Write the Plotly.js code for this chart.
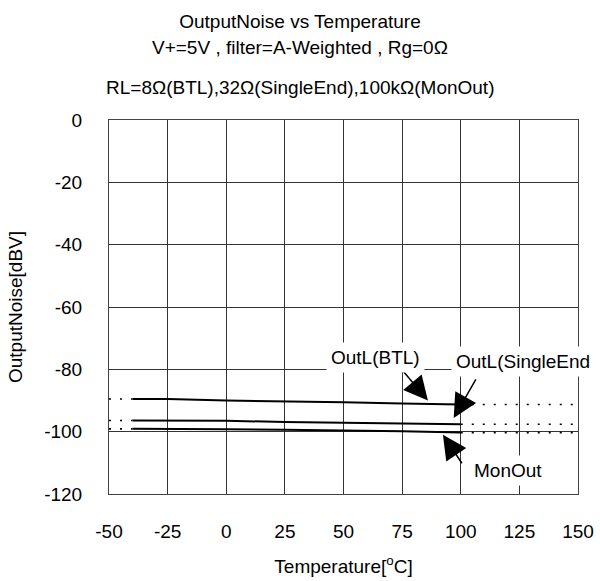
<!DOCTYPE html>
<html>
<head>
<meta charset="utf-8">
<script src="https://cdn.plot.ly/plotly-3.0.1.min.js"></script>
<style>
  html, body { margin: 0; padding: 0; background: #fff; }
  #chart { width: 600px; height: 581px; }
</style>
</head>
<body>
<div id="chart"></div>
<script>
// Measured output noise (dBV) over temperature (°C)
var temps      = [-40, -25, 0, 25, 50, 75, 100];
var btl        = [-89.5, -89.5, -90.0, -90.2, -90.6, -91.0, -91.3];
var singleEnd  = [-96.4, -96.4, -96.5, -96.9, -97.2, -97.4, -97.6];
var monOut     = [-99.1, -99.1, -99.2, -99.4, -99.6, -99.9, -100.3];

// Ranges outside the measured span, drawn dotted
var lowTemps   = [-50, -40];
var highTemps  = [100, 150];

var xTicks = [-50, -25, 0, 25, 50, 75, 100, 125, 150];
var yTicks = [0, -20, -40, -60, -80, -100, -120];

var FONT = 'Liberation Sans, Arial, sans-serif';

function solid(y, name) {
  return { x: temps, y: y, name: name, type: 'scatter', mode: 'lines',
           line: { color: '#000', width: 2 }, hoverinfo: 'skip' };
}
function dotted(xs, v, name) {
  return { x: xs, y: [v, v], name: name, type: 'scatter', mode: 'lines',
           line: { color: '#000', width: 1.6, dash: '2px,9px' }, hoverinfo: 'skip' };
}

var series = [
  { y: btl, name: 'OutL(BTL)' },
  { y: singleEnd, name: 'OutL(SingleEnd)' },
  { y: monOut, name: 'MonOut' }
];

var traces = [];
series.forEach(function (s) {
  traces.push(solid(s.y, s.name));
  traces.push(dotted(lowTemps, s.y[0], s.name));
  traces.push(dotted(highTemps, s.y[s.y.length - 1], s.name));
});

// plot-area geometry, used to place free text in paper coordinates
var PL = 109, PW = 469, PB = 494, PH = 374;
function px(xPix) { return (xPix - PL) / PW; }
function py(yPix) { return (PB - yPix) / PH; }

function label(text, x, y) {
  return { text: text, xref: 'paper', yref: 'paper', x: px(x), y: py(y),
           xanchor: 'center', yanchor: 'middle', showarrow: false,
           bgcolor: '#fff', borderpad: 4,
           font: { family: FONT, size: 19, color: '#000' } };
}
function arrow(x, y, ax, ay) {
  return { text: '', x: x, y: y, xref: 'x', yref: 'y', ax: ax, ay: ay,
           showarrow: true, arrowhead: 2, arrowsize: 3.2, arrowwidth: 1.5,
           arrowcolor: '#000', standoff: 0 };
}
function subtitle(text, y) {
  return { text: text, xref: 'paper', yref: 'paper', x: px(300), y: py(y),
           xanchor: 'center', yanchor: 'middle', showarrow: false,
           font: { family: FONT, size: 19, color: '#000' } };
}

var layout = {
  width: 600, height: 581,
  margin: { l: 109, r: 22, t: 120, b: 87 },
  paper_bgcolor: '#fff', plot_bgcolor: '#fff',
  showlegend: false,
  font: { family: FONT, size: 19, color: '#000' },
  title: {
    text: 'OutputNoise vs Temperature',
    x: 0.5, xanchor: 'center', y: 1 - 21 / 581, yanchor: 'middle',
    font: { family: FONT, size: 19, color: '#000' }
  },
  xaxis: {
    range: [-50, 150], tickvals: xTicks, ticktext: xTicks.map(String),
    showgrid: true, gridcolor: '#333', gridwidth: 1,
    showline: true, linecolor: '#444', linewidth: 1, mirror: true,
    zeroline: false, ticks: '', ticklabelstandoff: 20,
    tickfont: { family: FONT, size: 19, color: '#000' },
    title: { text: 'Temperature[<sup>o</sup>C]', standoff: 18,
             font: { family: FONT, size: 19, color: '#000' } }
  },
  yaxis: {
    range: [-120, 0], tickvals: yTicks, ticktext: yTicks.map(String),
    showgrid: true, gridcolor: '#333', gridwidth: 1,
    showline: true, linecolor: '#444', linewidth: 1, mirror: true,
    zeroline: false, ticks: '', ticklabelstandoff: 22,
    tickfont: { family: FONT, size: 19, color: '#000' },
    title: { text: 'OutputNoise[dBV]', standoff: 16,
             font: { family: FONT, size: 19, color: '#000' } }
  },
  annotations: [
    subtitle('V+=5V , filter=A-Weighted , Rg=0Ω', 47),
    subtitle('RL=8Ω(BTL),32Ω(SingleEnd),100kΩ(MonOut)', 87),
    arrow(86, -90.0, -27, -32),
    arrow(97, -95.6, 23, -40),
    arrow(92.4, -101.0, 20, 30),
    label('OutL(BTL)', 375, 357),
    label('OutL(SingleEnd', 523, 361),
    label('MonOut', 508, 470)
  ]
};

Plotly.newPlot('chart', traces, layout, { displayModeBar: false, staticPlot: true });
</script>
</body>
</html>
